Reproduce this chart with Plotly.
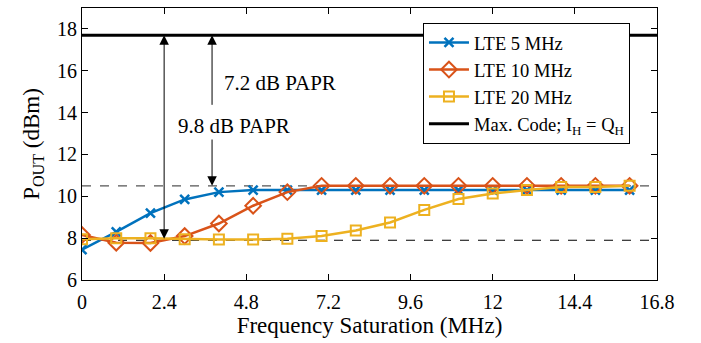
import plotly.graph_objects as go

freq = list(range(17))
lte5 = [7.45, 8.3, 9.2, 9.85, 10.2, 10.3, 10.3, 10.3, 10.3, 10.3, 10.3, 10.3, 10.3, 10.3, 10.3, 10.3, 10.3]
lte10 = [8.15, 7.78, 7.77, 8.1, 8.7, 9.55, 10.2, 10.5, 10.5, 10.5, 10.5, 10.5, 10.5, 10.5, 10.5, 10.5, 10.5]
lte20 = [7.95, 8.0, 8.0, 7.95, 7.93, 7.93, 7.97, 8.1, 8.37, 8.75, 9.35, 9.87, 10.13, 10.3, 10.45, 10.45, 10.5]
max_code = 17.7
xrange_ = [0, 16.8]
yrange_ = [6, 19]
x_ticks = [0, 2.4, 4.8, 7.2, 9.6, 12, 14.4, 16.8]
x_ticklabels = ["0", "2.4", "4.8", "7.2", "9.6", "12", "14.4", "16.8"]
y_ticks = [6, 8, 10, 12, 14, 16, 18]
ref_high = 10.5
ref_low = 7.9
arrow1_x = 2.4
arrow2_x = 3.8
arrow2_up_start = 14.3
arrow2_down_start = 13.0
label1 = "7.2 dB PAPR"
label2 = "9.8 dB PAPR"

FONT = "Liberation Serif"

fig = go.Figure()
fig.add_trace(go.Scatter(x=freq, y=lte5, mode="lines+markers", name="LTE 5 MHz",
                         line=dict(color="#0072BD", width=2.5),
                         marker=dict(symbol="x-thin-open", size=9, line=dict(width=2.5, color="#0072BD"))))
fig.add_trace(go.Scatter(x=freq, y=lte10, mode="lines+markers", name="LTE 10 MHz",
                         line=dict(color="#D95319", width=2.5),
                         marker=dict(symbol="diamond-open", size=12, line=dict(width=2, color="#D95319"))))
fig.add_trace(go.Scatter(x=freq, y=lte20, mode="lines+markers", name="LTE 20 MHz",
                         line=dict(color="#EDB120", width=2.5),
                         marker=dict(symbol="square-open", size=10, line=dict(width=2, color="#EDB120"))))
fig.add_trace(go.Scatter(x=xrange_, y=[max_code, max_code], mode="lines",
                         name="Max. Code; I<sub>H</sub> = Q<sub>H</sub>",
                         line=dict(color="black", width=3)))

# dashed reference lines
fig.add_shape(type="line", xref="x", yref="y", x0=xrange_[0], x1=xrange_[1], y0=ref_high, y1=ref_high,
              line=dict(color="#555555", width=1.2, dash="dash"), layer="below")
fig.add_shape(type="line", xref="x", yref="y", x0=xrange_[0], x1=xrange_[1], y0=ref_low, y1=ref_low,
              line=dict(color="black", width=1.2, dash="dash"), layer="below")

# arrows
fig.add_annotation(x=arrow1_x, y=max_code, ax=arrow1_x, ay=ref_low, xref="x", yref="y", axref="x", ayref="y",
                   showarrow=True, arrowhead=2, startarrowhead=2, arrowside="end+start",
                   arrowwidth=1, arrowsize=1.9, startarrowsize=1.9, arrowcolor="black", text="")
fig.add_annotation(x=arrow2_x, y=max_code, ax=arrow2_x, ay=arrow2_up_start, xref="x", yref="y", axref="x", ayref="y",
                   showarrow=True, arrowhead=2, arrowwidth=1, arrowsize=1.9, arrowcolor="black", text="")
fig.add_annotation(x=arrow2_x, y=ref_high, ax=arrow2_x, ay=arrow2_down_start, xref="x", yref="y", axref="x", ayref="y",
                   showarrow=True, arrowhead=2, arrowwidth=1, arrowsize=1.9, arrowcolor="black", text="")
fig.add_annotation(x=4.1, y=15.4, xref="x", yref="y", text=label1, showarrow=False, xanchor="left",
                   font=dict(family=FONT, size=21, color="black"))
fig.add_annotation(x=4.45, y=13.35, xref="x", yref="y", text=label2, showarrow=False, xanchor="center",
                   bgcolor="white", font=dict(family=FONT, size=21, color="black"))

axis_common = dict(showgrid=False, zeroline=False, showline=True, linecolor="black", linewidth=1,
                   mirror="ticks", ticks="inside", ticklen=6, tickcolor="black",
                   tickfont=dict(family=FONT, size=20, color="black"))
fig.update_xaxes(range=xrange_, tickvals=x_ticks, ticktext=x_ticklabels, ticklabelstandoff=4,
                 title=dict(text="Frequency Saturation (MHz)", font=dict(family=FONT, size=23, color="black"), standoff=3),
                 **axis_common)
fig.update_yaxes(range=yrange_, tickvals=y_ticks,
                 title=dict(text="P<sub>OUT</sub> (dBm)", font=dict(family=FONT, size=23, color="black"), standoff=10),
                 **axis_common)

fig.update_layout(width=701, height=343, margin=dict(l=82, r=44, t=8, b=63),
                  plot_bgcolor="white", paper_bgcolor="white",
                  font=dict(family=FONT, color="black"),
                  showlegend=True,
                  legend=dict(x=0.593, y=0.945, xanchor="left", yanchor="top",
                              bgcolor="white", bordercolor="black", borderwidth=1,
                              font=dict(family=FONT, size=18.5, color="black"),
                              tracegroupgap=0, itemwidth=40))

fig.write_html("out.html")
